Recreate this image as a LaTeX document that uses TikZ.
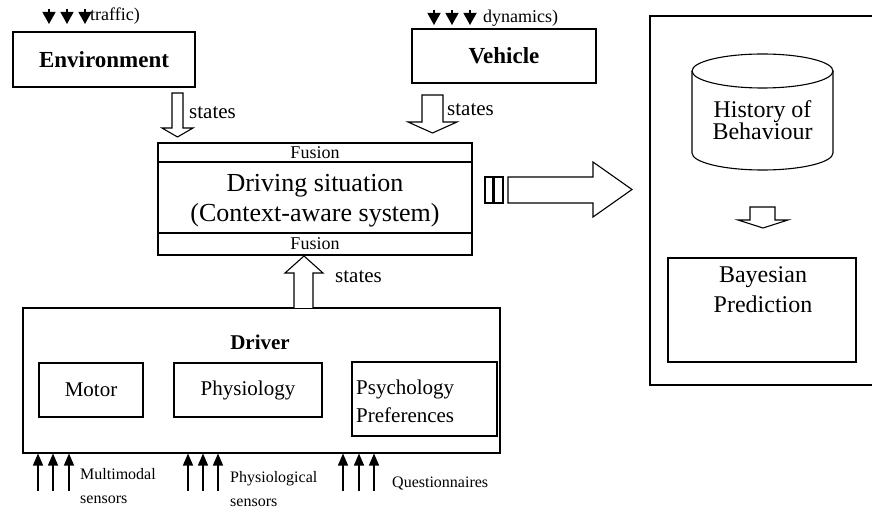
\documentclass[tikz,border=0pt]{standalone}
\usepackage{fontspec}
\setmainfont{Liberation Serif}
\usetikzlibrary{arrows.meta,calc}
\begin{document}
\begin{tikzpicture}[x=1pt,y=-1pt,
  box/.style={draw,line width=1.3pt,inner sep=0pt},
  blk/.style={draw,line width=1.1pt,fill=white,line join=miter},
  sens/.style={line width=1.3pt,-{Triangle[width=10pt,length=12pt]}},
  topin/.style={line width=1.3pt,-{Triangle[width=13pt,length=12pt]}},
  lbl/.style={inner sep=0pt,anchor=west}
]
\useasboundingbox (0,0) rectangle (872,510);
\clip (0,0) rectangle (872,510);

% top boxes
\node[box,minimum width=182pt,minimum height=55pt,font={\fontsize{23}{26}\selectfont\bfseries}] (env) at (104,59.5) {Environment};
\node[box,minimum width=184pt,minimum height=54pt,font={\fontsize{23}{26}\selectfont\bfseries}] (veh) at (504,56) {Vehicle};

% inputs on top
\foreach \x in {49,67,85} \draw[topin] (\x,9) -- (\x,24);
\node[lbl,font={\fontsize{18}{20}\selectfont}] (traf) at (90,16) {traffic)};
\foreach \x in {434,452,470} \draw[topin] (\x,10) -- (\x,25);
\node[lbl,font={\fontsize{18}{20}\selectfont}] (dyn) at (483,18) {dynamics)};

% driving situation
\node[box,minimum width=314pt,minimum height=112pt] (ds) at (315,199) {};
\draw[line width=1.3pt] (ds.west |- 0,162) -- (ds.east |- 0,162);
\draw[line width=1.3pt] (ds.west |- 0,233) -- (ds.east |- 0,233);
\node[font={\fontsize{18}{20}\selectfont},inner sep=0pt] (fus1) at (315,152.5) {Fusion};
\node[font={\fontsize{18}{20}\selectfont},inner sep=0pt] (fus2) at (315,244) {Fusion};
\node[font={\fontsize{26}{29}\selectfont},inner sep=0pt] (ds1) at (315,186) {Driving situation};
\node[font={\fontsize{26}{29}\selectfont},inner sep=0pt] (ds2) at (315,215) {(Context-aware system)};

% block arrows down
\draw[blk] (172,93) -- (183,93) -- (183,128) -- (193,128) -- (177.5,137) -- (162,128) -- (172,128) -- cycle;
\node[lbl,font={\fontsize{21}{24}\selectfont}] (st1) at (189,113) {states};
\draw[blk] (422,95) -- (443,95) -- (443,122) -- (457,122) -- (432.5,133) -- (408,122) -- (422,122) -- cycle;
\node[lbl,font={\fontsize{21}{24}\selectfont}] (st2) at (447,110) {states};

% driver
\node[box,minimum width=477pt,minimum height=145pt] (drv) at (261.5,380.5) {};
\node[font={\fontsize{21}{24}\selectfont\bfseries},inner sep=0pt] (drvt) at (260,342) {Driver};
\node[box,minimum width=104pt,minimum height=54pt,font={\fontsize{21}{24}\selectfont}] (mot) at (91,390) {Motor};
\node[box,minimum width=148pt,minimum height=54pt,font={\fontsize{21}{24}\selectfont}] (phy) at (248,390) {Physiology};
\node[box,minimum width=145pt,minimum height=74pt] (psy) at (424.5,399) {};
\node[lbl,align=left,font={\fontsize{21}{28}\selectfont}] (psyt) at (356,401) {Psychology\\Preferences};

% up arrow driver -> ds
\draw[blk] (294,308) -- (294,273) -- (285,273) -- (304,256) -- (323,273) -- (313,273) -- (313,308);
\node[lbl,font={\fontsize{21}{24}\selectfont}] (st3) at (335,277) {states};

% sensors
\foreach \x in {38,53,69,188,203,218,343,359,374} \draw[sens] (\x,491) -- (\x,453.5);
\node[lbl,align=left,font={\fontsize{16}{24}\selectfont}] (mm) at (80,486) {Multimodal\\sensors};
\node[lbl,align=left,font={\fontsize{16}{24}\selectfont}] (ps) at (230,489) {Physiological\\sensors};
\node[lbl,font={\fontsize{16}{20}\selectfont}] (qs) at (392,483) {Questionnaires};

% big right arrow
\draw[blk] (485,177) rectangle (493,203);
\draw[blk] (494,177) rectangle (503,203);
\draw[blk] (508,177) -- (593,177) -- (593,162) -- (632,189.5) -- (593,217) -- (593,203) -- (508,203) -- cycle;

% right panel
\draw[line width=1.3pt] (880,16) -- (650,16) -- (650,385) -- (880,385);
\draw[line width=1.1pt] (692,71) -- (692,153) arc[start angle=180,end angle=0,x radius=70.5,y radius=17] -- (833,71);
\draw[line width=1.1pt] (762.5,71) ellipse [x radius=70.5,y radius=17];
\node[align=center,font={\fontsize{24}{22}\selectfont},inner sep=0pt] (hist) at (762.5,120) {History of\\Behaviour};
\draw[blk] (750,207) -- (775,207) -- (775,220) -- (788,220) -- (763,228) -- (738,220) -- (750,220) -- cycle;
\node[box,minimum width=188pt,minimum height=104pt] (bay) at (762,310) {};
\node[align=center,font={\fontsize{24}{30}\selectfont},inner sep=0pt] (bayt) at (763,290) {Bayesian\\Prediction};
\end{tikzpicture}
\end{document}
